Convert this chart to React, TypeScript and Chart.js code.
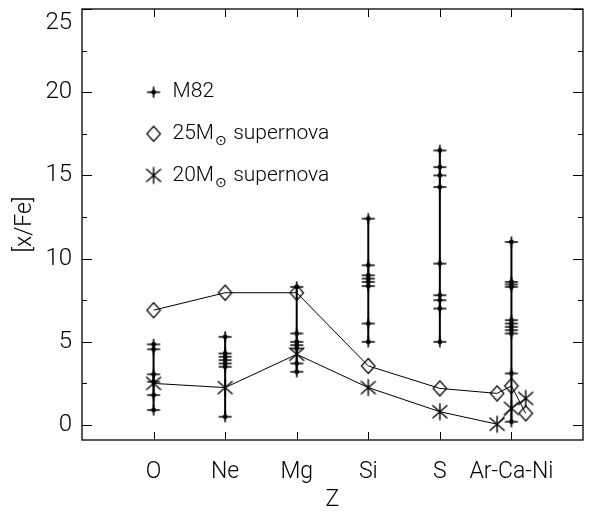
import React, { useEffect, useRef } from 'react';
import { Chart, registerables } from 'chart.js';

Chart.register(...registerables);

// ---- data ----
const elementNames = ['O', 'Ne', 'Mg', 'Si', 'S', 'Ar-Ca-Ni'];
const elementX = [1, 2, 3, 4, 5, 6];

const m82O = [4.85, 4.55, 3.05, 2.6, 1.8, 0.9];
const m82Ne = [5.3, 4.3, 4.1, 3.9, 3.7, 3.5, 0.5];
const m82Mg = [8.3, 5.5, 5.0, 4.8, 4.6, 3.7, 3.2];
const m82Si = [12.4, 9.6, 9.0, 8.8, 8.6, 8.35, 6.1, 5.0];
const m82S = [16.5, 15.5, 15.0, 14.3, 9.7, 7.8, 7.5, 7.0, 5.0];
const m82ArCaNi = [11.0, 8.6, 8.45, 8.3, 6.3, 6.1, 5.9, 5.7, 5.5, 3.1, 0.2];
const m82Columns = [m82O, m82Ne, m82Mg, m82Si, m82S, m82ArCaNi];

const snX = [1, 2, 3, 4, 5, 5.8, 6, 6.2];
const sn25 = [6.9, 7.95, 7.95, 3.55, 2.2, 1.9, 2.35, 0.7];
const sn20 = [2.5, 2.25, 4.25, 2.25, 0.8, 0.05, 1.0, 1.6];

const yTicks = [0, 5, 10, 15, 20, 25];
const yMinorTicks = [2.5, 7.5, 12.5, 17.5, 22.5];
const xMin = 0;
const xMax = 7;
const yMin = -0.9;
const yMax = 25;

const legendLabels = ['M82', '25M', '20M'];
const legendSuffix = ['', ' supernova', ' supernova'];
const legendY = [20, 17.5, 15];
const legendX = 1;

const FONT = 'Roboto';

function makeMarker(kind: string): HTMLCanvasElement {
  const c = document.createElement('canvas');
  c.width = 22;
  c.height = 22;
  const g = c.getContext('2d')!;
  g.translate(11, 11);
  g.strokeStyle = '#000';
  g.fillStyle = '#000';
  if (kind === 'plus') {
    g.lineWidth = 1.6;
    g.beginPath();
    g.moveTo(-6.5, 0); g.lineTo(6.5, 0);
    g.moveTo(0, -5.5); g.lineTo(0, 5.5);
    g.stroke();
    g.beginPath();
    g.arc(0, 0, 2.4, 0, Math.PI * 2);
    g.fill();
  } else if (kind === 'diamond') {
    g.lineWidth = 1.2;
    g.beginPath();
    g.moveTo(0, -7.5); g.lineTo(6.8, 0); g.lineTo(0, 7.5); g.lineTo(-6.8, 0);
    g.closePath();
    g.stroke();
  } else {
    g.lineWidth = 1.4;
    g.beginPath();
    g.moveTo(0, -8.5); g.lineTo(0, 8.5);
    g.moveTo(-7.5, -6.5); g.lineTo(7.5, 6.5);
    g.moveTo(-7.5, 6.5); g.lineTo(7.5, -6.5);
    g.stroke();
  }
  return c;
}

export default function App() {
  const ref = useRef<HTMLCanvasElement | null>(null);

  useEffect(() => {
    if (!ref.current) return;
    const plus = makeMarker('plus');
    const diamond = makeMarker('diamond');
    const star = makeMarker('star');
    const markers = [plus, diamond, star];

    const m82Sets = m82Columns.map((col, i) => ({
      label: 'M82 ' + elementNames[i],
      data: col.map((v) => ({ x: elementX[i], y: v })),
      showLine: true,
      borderColor: '#000',
      borderWidth: 2,
      pointStyle: plus as any,
      pointRadius: 6,
    }));

    const frame = {
      id: 'frame',
      afterDraw(chart: any) {
        const { ctx, chartArea: a, scales } = chart;
        const xs = scales.x;
        const ys = scales.y;
        ctx.save();
        ctx.strokeStyle = '#000';
        ctx.lineWidth = 1.3;
        ctx.strokeRect(a.left, a.top, a.right - a.left, a.bottom - a.top);
        ctx.lineWidth = 1;
        ctx.beginPath();
        const yt = (v: number, len: number) => {
          const p = Math.round(ys.getPixelForValue(v)) + 0.5;
          ctx.moveTo(a.left, p); ctx.lineTo(a.left + len, p);
          ctx.moveTo(a.right, p); ctx.lineTo(a.right - len, p);
        };
        yTicks.forEach((v) => yt(v, 10));
        yMinorTicks.forEach((v) => yt(v, 5));
        elementX.forEach((v) => {
          const p = Math.round(xs.getPixelForValue(v)) + 0.5;
          ctx.moveTo(p, a.bottom); ctx.lineTo(p, a.bottom - 8);
          ctx.moveTo(p, a.top); ctx.lineTo(p, a.top + 8);
        });
        ctx.stroke();

        // legend
        const lx = xs.getPixelForValue(legendX);
        legendLabels.forEach((lab, i) => {
          const py = ys.getPixelForValue(legendY[i]);
          const m = markers[i];
          ctx.drawImage(m, lx - m.width / 2, py - m.height / 2);
          ctx.fillStyle = '#000';
          ctx.textBaseline = 'middle';
          ctx.textAlign = 'left';
          ctx.font = `300 21px ${FONT}`;
          let tx = lx + 19;
          ctx.fillText(lab, tx, py);
          tx += ctx.measureText(lab).width;
          if (i > 0) {
            ctx.font = `300 14px ${FONT}, "DejaVu Sans"`;
            ctx.fillText('\u2299', tx + 1, py + 8);
            tx += ctx.measureText('\u2299').width + 2;
            ctx.font = `300 21px ${FONT}`;
            ctx.fillText(legendSuffix[i], tx, py);
          }
        });
        ctx.restore();
      },
    };

    const chart = new Chart(ref.current, {
      type: 'scatter',
      data: {
        datasets: [
          ...m82Sets,
          {
            label: '25Msun supernova',
            data: snX.map((x, i) => ({ x, y: sn25[i] })),
            showLine: true,
            borderColor: '#000',
            borderWidth: 1,
            pointStyle: diamond as any,
            pointRadius: 7,
          },
          {
            label: '20Msun supernova',
            data: snX.map((x, i) => ({ x, y: sn20[i] })),
            showLine: true,
            borderColor: '#000',
            borderWidth: 1,
            pointStyle: star as any,
            pointRadius: 8,
          },
        ] as any,
      },
      options: {
        animation: false,
        responsive: false,
        devicePixelRatio: 1,
        events: [],
        layout: { padding: { top: 7, right: 2, left: 0, bottom: 0 } },
        plugins: { legend: { display: false }, tooltip: { enabled: false } },
        scales: {
          x: {
            type: 'linear',
            position: 'bottom',
            min: xMin,
            max: xMax,
            grid: { display: false, drawTicks: false },
            border: { display: false },
            afterBuildTicks: (s: any) => {
              s.ticks = elementX.map((v) => ({ value: v }));
            },
            afterFit: (s: any) => {
              s.height = 72;
              s.paddingLeft = 0;
              s.paddingRight = 0;
              s.paddingTop = 0;
              s.paddingBottom = 0;
            },
            ticks: {
              autoSkip: false,
              maxRotation: 0,
              color: '#000',
              padding: 18,
              font: { family: FONT, size: 23, weight: '300' },
              callback: (v: any) => {
                const i = elementX.indexOf(Number(v));
                return i >= 0 ? elementNames[i] : '';
              },
            },
            title: {
              display: true,
              text: 'Z',
              color: '#000',
              padding: { top: 0, bottom: 0 },
              font: { family: FONT, size: 23, weight: '300', lineHeight: 1 },
            },
          },
          y: {
            type: 'linear',
            min: yMin,
            max: yMax,
            grid: { display: false, drawTicks: false },
            border: { display: false },
            afterBuildTicks: (s: any) => {
              s.ticks = yTicks.map((v) => ({ value: v }));
            },
            afterFit: (s: any) => {
              s.width = 82;
              s.paddingLeft = 0;
              s.paddingRight = 0;
              s.paddingTop = 0;
              s.paddingBottom = 0;
            },
            ticks: {
              color: '#000',
              padding: 10,
              font: { family: FONT, size: 24, weight: '300' },
              callback: (v: any) => (Number(v) === yMax ? ['', String(v)] : String(v)),
            },
            title: {
              display: true,
              text: '[x/Fe]',
              color: '#000',
              padding: { top: 14, bottom: 0 },
              font: { family: FONT, size: 23, weight: '300', lineHeight: 1 },
            },
          },
        },
      } as any,
      plugins: [frame],
    });
    return () => chart.destroy();
  }, []);

  return (
    <div style={{ position: 'fixed', left: 0, top: 0, width: 592, height: 512, background: '#fff' }}>
      <canvas ref={ref} width={592} height={512} />
    </div>
  );
}
